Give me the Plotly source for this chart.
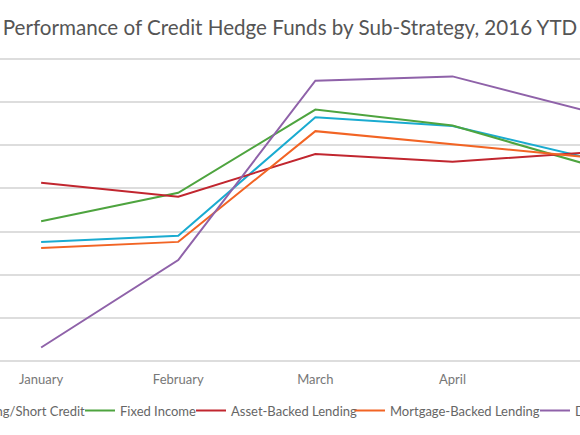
import plotly.graph_objects as go

months = ['January', 'February', 'March', 'April', 'May']

long_short = [-0.24, -0.10, 2.65, 2.45, 1.70]
fixed_income = [0.24, 0.90, 2.83, 2.46, 1.54]
asset_backed = [1.13, 0.81, 1.80, 1.62, 1.84]
mortgage_backed = [-0.38, -0.24, 2.33, 2.03, 1.72]
distressed = [-2.69, -0.66, 3.50, 3.60, 2.78]

names = ['Long/Short Credit', 'Fixed Income', 'Asset-Backed Lending',
         'Mortgage-Backed Lending', 'Distressed']
series = [long_short, fixed_income, asset_backed, mortgage_backed, distressed]
colors = ['#1aabd0', '#4ea43f', '#c1262f', '#f26424', '#8f62a9']
legend_ids = ['legend', 'legend2', 'legend3', 'legend4', 'legend5']
# left end of each legend entry, in pixels of the 580px page
legend_px = [-58, 80, 191, 350, 535]

fig = go.Figure()
for name, vals, col, lg in zip(names, series, colors, legend_ids):
    fig.add_trace(go.Scatter(x=months, y=vals, name=name, mode='lines',
                             line=dict(color=col, width=2), legend=lg))

font_family = 'Lato, Noto Sans, sans-serif'
layout_legends = {}
for lg, px_ in zip(legend_ids, legend_px):
    layout_legends[lg] = dict(
        orientation='h', xref='paper', yref='container',
        x=px_ / 580, y=24.5 / 435, xanchor='left', yanchor='middle',
        font=dict(family=font_family, size=13, color='#666666'),
        itemwidth=30, bgcolor='rgba(0,0,0,0)')

fig.update_layout(
    width=580, height=435, showlegend=True,
    margin=dict(l=0, r=0, t=57, b=72, autoexpand=False),
    paper_bgcolor='white', plot_bgcolor='white',
    title=dict(text='Performance of Credit Hedge Funds by Sub-Strategy, 2016 YTD',
               x=0.5, xanchor='center', y=1 - 28 / 435, yanchor='middle',
               font=dict(family=font_family, size=20.6, color='#555555')),
    xaxis=dict(range=[-0.30, 3.93], showgrid=False, zeroline=False,
               showline=False, ticks='outside', ticklen=4,
               tickcolor='rgba(0,0,0,0)',
               tickfont=dict(family=font_family, size=13, color='#777777')),
    yaxis=dict(range=[-3.05, 4.05], dtick=1, showticklabels=False,
               gridcolor='#dddddd', gridwidth=1.5, zeroline=False,
               showline=False),
    **layout_legends,
)

fig.write_html('out.html', config={'displayModeBar': False},
               post_script="document.body.style.margin='0';")
